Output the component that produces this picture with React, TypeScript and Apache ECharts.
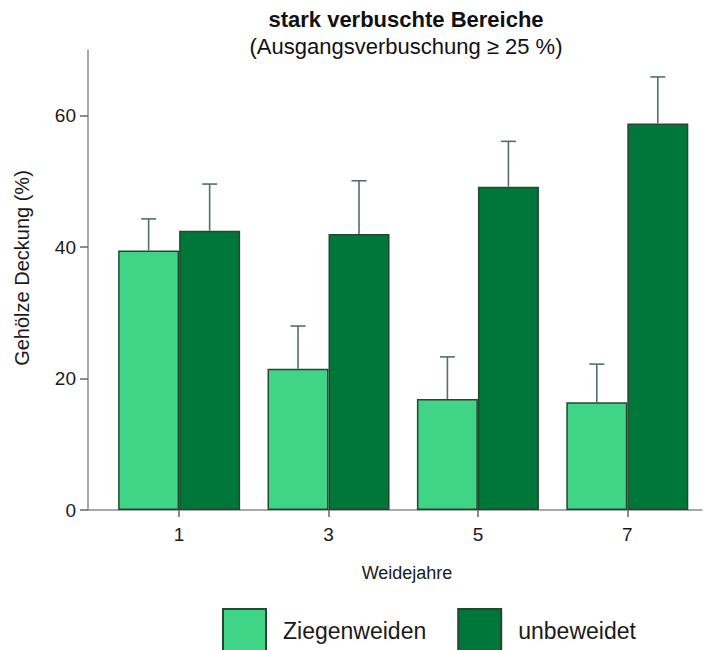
import React, { useEffect, useRef } from "react";
import * as echarts from "echarts";

const years = [1, 3, 5, 7];
const seriesNames = ["Ziegenweiden", "unbeweidet"];
const ziegenMean = [39.5, 21.5, 16.9, 16.4];
const ziegenErr = [4.8, 6.5, 6.4, 5.8];
const unbeMean = [42.5, 42.0, 49.2, 58.8];
const unbeErr = [7.1, 8.1, 6.9, 7.1];
const yTicks = [0, 20, 40, 60];
const titleText = "stark verbuschte Bereiche";
const subtitleText = "(Ausgangsverbuschung ≥ 25 %)";
const yName = "Gehölze Deckung (%)";
const xName = "Weidejahre";

const LIGHT = "#40d486";
const DARK = "#00773a";
const EDGE = "#23482f";
const ERR = "#52706a";
const AXIS = "#8c8c8c";
const FONT = "Liberation Sans, Arial, sans-serif";

function errorSeries(means: number[], errs: number[], dx: number) {
  return {
    type: "custom",
    z: 5,
    silent: true,
    encode: { x: 0, y: 1 },
    data: years.map((y, i) => [y, means[i], errs[i]]),
    renderItem: (params: any, api: any) => {
      const x = api.value(0);
      const m = api.value(1);
      const e = api.value(2);
      const p = api.coord([x, m]);
      const t = api.coord([x, m + e]);
      const cx = p[0] + dx;
      const style = { stroke: ERR, lineWidth: 1.6 };
      return {
        type: "group",
        children: [
          { type: "line", shape: { x1: cx, y1: p[1], x2: cx, y2: t[1] }, style },
          { type: "line", shape: { x1: cx - 7.5, y1: t[1], x2: cx + 7.5, y2: t[1] }, style },
        ],
      };
    },
  };
}

export default function App() {
  const ref = useRef<HTMLDivElement>(null);
  useEffect(() => {
    if (!ref.current) return;
    const chart = echarts.init(ref.current, null, { renderer: "svg" });
    chart.setOption({
      animation: false,
      textStyle: { fontFamily: FONT },
      grid: { left: 88, right: 6, top: 50, bottom: 140, containLabel: false },
      xAxis: {
        type: "value",
        min: -0.22,
        max: 8.0,
        splitLine: { show: false },
        axisLine: { show: true, onZero: false, lineStyle: { color: AXIS, width: 1.5 } },
        axisTick: { show: true, length: 7, lineStyle: { color: "#666", width: 1.5 }, customValues: years },
        axisLabel: { customValues: years, fontSize: 19, color: "#1a1a1a", margin: 15, fontFamily: FONT },
      },
      yAxis: {
        type: "value",
        min: 0,
        max: 70,
        splitLine: { show: false },
        axisLine: { show: true, onZero: false, lineStyle: { color: AXIS, width: 1.5 } },
        axisTick: { show: true, length: 8, lineStyle: { color: "#666", width: 1.5 }, customValues: yTicks },
        axisLabel: { customValues: yTicks, fontSize: 19, color: "#1a1a1a", margin: 12, fontFamily: FONT },
      },
      legend: {
        left: 217,
        top: 603,
        itemWidth: 43,
        itemHeight: 44,
        itemGap: 31,
        icon: "rect",
        data: seriesNames,
        textStyle: { fontSize: 23, color: "#1a1a1a", fontFamily: FONT, padding: [0, 0, 0, 12] },
      },
      series: [
        {
          name: seriesNames[0],
          type: "bar",
          barWidth: 61,
          barGap: "0%",
          data: years.map((y, i) => [y, ziegenMean[i]]),
          itemStyle: { color: LIGHT, borderColor: EDGE, borderWidth: 1.5 },
        },
        {
          name: seriesNames[1],
          type: "bar",
          barWidth: 61,
          barGap: "0%",
          data: years.map((y, i) => [y, unbeMean[i]]),
          itemStyle: { color: DARK, borderColor: EDGE, borderWidth: 1.5 },
        },
        errorSeries(ziegenMean, ziegenErr, -30.5),
        errorSeries(unbeMean, unbeErr, 30.5),
      ],
      graphic: [
        {
          type: "text",
          x: 406,
          y: 19,
          style: { text: titleText, fontSize: 22, fontWeight: "bold", fill: "#111", align: "center", verticalAlign: "middle", fontFamily: FONT },
        },
        {
          type: "text",
          x: 406,
          y: 46,
          style: { text: subtitleText, fontSize: 22, fill: "#111", align: "center", verticalAlign: "middle", fontFamily: FONT },
        },
        {
          type: "text",
          x: 22,
          y: 268,
          rotation: Math.PI / 2,
          style: { text: yName, fontSize: 20, fill: "#1a1a1a", align: "center", verticalAlign: "middle", fontFamily: FONT },
        },
        {
          type: "text",
          x: 407,
          y: 573,
          style: { text: xName, fontSize: 18, fill: "#1a1a1a", align: "center", verticalAlign: "middle", fontFamily: FONT },
        },
      ],
    });
    return () => chart.dispose();
  }, []);
  return (
    <div
      ref={ref}
      style={{ position: "fixed", left: 0, top: 0, width: 708, height: 650, background: "#fff" }}
    />
  );
}
